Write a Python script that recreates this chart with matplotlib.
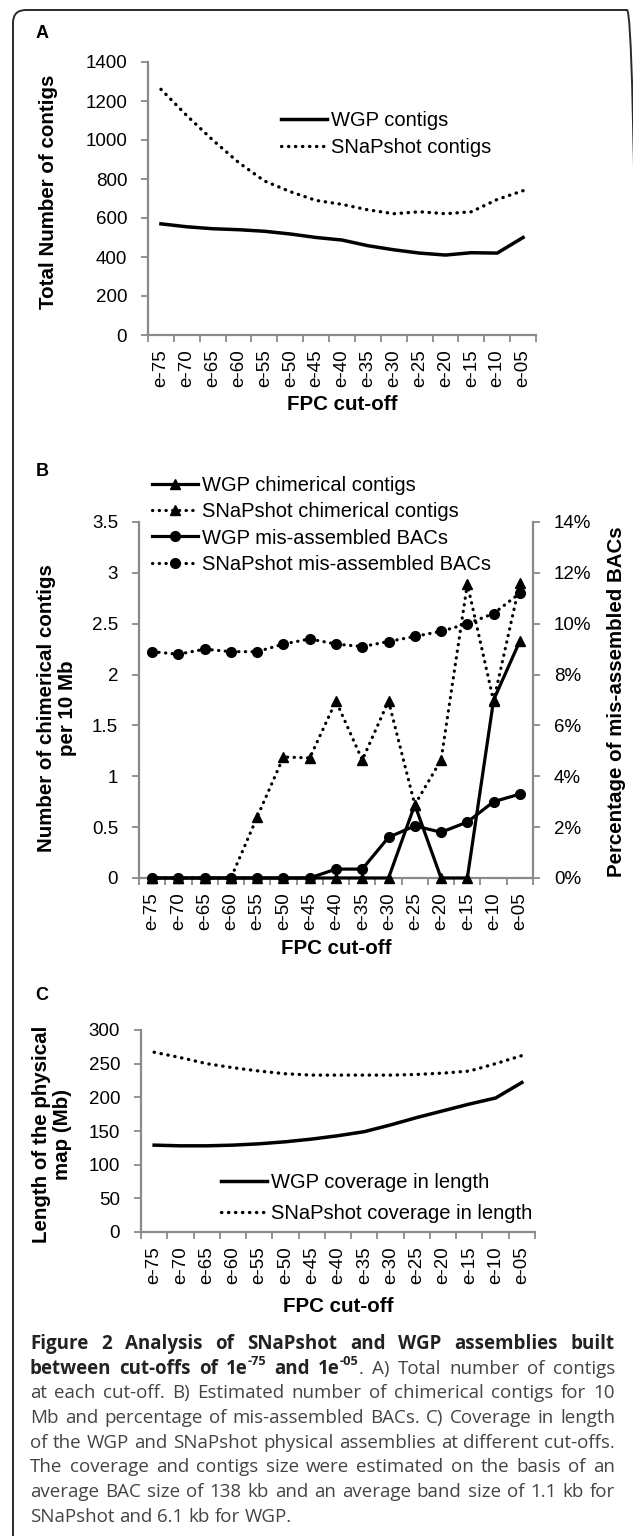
import numpy as np
import matplotlib
matplotlib.use('Agg')
from matplotlib import pyplot as plt
from matplotlib.patches import FancyBboxPatch
from matplotlib.transforms import IdentityTransform

# FPC cut-off categories
cutoffs = ['e-75', 'e-70', 'e-65', 'e-60', 'e-55', 'e-50', 'e-45', 'e-40',
           'e-35', 'e-30', 'e-25', 'e-20', 'e-15', 'e-10', 'e-05']

# A) total number of contigs
wgp_contigs = [570, 555, 545, 540, 532, 518, 500, 487, 458, 437, 420, 410, 422, 420, 500]
snap_contigs = [1260, 1125, 1000, 885, 790, 735, 690, 670, 642, 622, 632, 622, 632, 695, 740]

# B) chimerical contigs per 10 Mb and % mis-assembled BACs
wgp_chim = [0, 0, 0, 0, 0, 0, 0, 0, 0, 0, 0.72, 0, 0, 1.75, 2.33]
snap_chim = [0, 0, 0, 0, 0.6, 1.19, 1.18, 1.74, 1.16, 1.74, 0.72, 1.16, 2.89, 1.74, 2.9]
wgp_mis = [0, 0, 0, 0, 0, 0, 0, 0.35, 0.35, 1.6, 2.05, 1.8, 2.2, 3.0, 3.3]
snap_mis = [8.9, 8.8, 9.0, 8.9, 8.9, 9.2, 9.4, 9.2, 9.1, 9.3, 9.5, 9.7, 10.0, 10.4, 11.2]

# C) length of the physical map (Mb)
wgp_len = [129, 128, 128, 129, 131, 134, 138, 143, 149, 159, 170, 180, 190, 199, 222]
snap_len = [267, 259, 250, 244, 239, 235, 233, 233, 233, 233, 234, 236, 239, 250, 262]

W, H = 633, 1536
GRAY = '#8a8a8a'
TICK_FS = 13.5
LAB_FS = 14.8
LEG_FS = 14.5
plt.rcParams['font.family'] = ['Liberation Sans', 'DejaVu Sans']

fig = plt.figure(figsize=(W / 100, H / 100), dpi=100)


def box(l, t, r, b):
    return [l / W, 1 - b / H, (r - l) / W, (b - t) / H]


def ftext(x, y, s, **kw):
    return fig.text(x / W, 1 - y / H, s, **kw)


def style(ax, ymax, ystep):
    n = len(cutoffs)
    ax.set_xlim(-0.5, n - 0.5)
    ax.set_ylim(0, ymax)
    ax.set_xticks(np.arange(n))
    ax.set_xticklabels(cutoffs, rotation=90, fontsize=TICK_FS)
    ax.set_xticks(np.arange(n + 1) - 0.5, minor=True)
    ax.tick_params(axis='x', which='major', length=0, pad=10)
    ax.tick_params(axis='x', which='minor', length=5, color=GRAY, width=1.3)
    ax.set_yticks(np.arange(0, ymax + ystep / 2, ystep))
    ax.tick_params(axis='y', length=5, color=GRAY, width=1.3, labelsize=TICK_FS, pad=10)
    for s in ['top', 'right']:
        ax.spines[s].set_visible(False)
    for s in ['left', 'bottom']:
        ax.spines[s].set_color(GRAY)
        ax.spines[s].set_linewidth(1.6)
    ax.patch.set_alpha(0)


def legend(ax, handles, left, top, spacing):
    ax.legend(handles=handles, loc='upper left',
              bbox_to_anchor=(left / W, 1 - top / H), bbox_transform=fig.transFigure,
              frameon=False, fontsize=LEG_FS, handlelength=2.3, handletextpad=0.2,
              labelspacing=spacing, borderpad=0, borderaxespad=0)


dots = dict(linestyle=(0, (0.1, 2.0)), dash_capstyle='round')
x = np.arange(len(cutoffs))

# ---- Panel A
axA = fig.add_axes(box(148, 62, 536, 335))
style(axA, 1400, 200)
a1, = axA.plot(x, wgp_contigs, color='k', lw=2.5, label='WGP contigs')
a2, = axA.plot(x, snap_contigs, color='k', lw=2.4, label='SNaPshot contigs', **dots)
legend(axA, [a1, a2], 281, 111, 0.42)
ftext(42, 33, 'A', fontsize=13, fontweight='bold', ha='center', va='center')
ftext(48, 192, 'Total Number of contigs', fontsize=LAB_FS, fontweight='bold',
      rotation=90, ha='center', va='center')
ftext(342, 405, 'FPC cut-off', fontsize=LAB_FS, fontweight='bold', ha='center', va='center')

# ---- Panel B
axB = fig.add_axes(box(139, 522, 533, 878))
style(axB, 3.5, 0.5)
axB.set_yticklabels(['%g' % v for v in np.arange(0, 3.75, 0.5)])
axB2 = axB.twinx()
axB2.set_ylim(0, 14)
axB2.set_yticks(np.arange(0, 15, 2))
axB2.set_yticklabels(['%d%%' % v for v in np.arange(0, 15, 2)])
axB2.tick_params(axis='y', length=5, color=GRAY, width=1.3, labelsize=TICK_FS, pad=10)
for s in ['top', 'left', 'bottom']:
    axB2.spines[s].set_visible(False)
axB2.spines['right'].set_color(GRAY)
axB2.spines['right'].set_linewidth(1.6)

h1, = axB.plot(x, wgp_chim, color='k', lw=2.3, marker='^', ms=7,
               clip_on=False, zorder=3, label='WGP chimerical contigs')
h2, = axB.plot(x, snap_chim, color='k', lw=2.3, marker='^', ms=7,
               clip_on=False, zorder=3, label='SNaPshot chimerical contigs', **dots)
h3, = axB2.plot(x, wgp_mis, color='k', lw=2.3, marker='o', ms=7,
                clip_on=False, zorder=3, label='WGP mis-assembled BACs')
h4, = axB2.plot(x, snap_mis, color='k', lw=2.3, marker='o', ms=7,
                clip_on=False, zorder=3, label='SNaPshot mis-assembled BACs', **dots)
legend(axB2, [h1, h2, h3, h4], 152, 476, 0.36)
ftext(42, 472, 'B', fontsize=13, fontweight='bold', ha='center', va='center')
ftext(57, 708, 'Number of chimerical contigs\nper 10 Mb', fontsize=LAB_FS,
      fontweight='bold', rotation=90, ha='center', va='center',
      multialignment='center', linespacing=1.15)
ftext(617, 702, 'Percentage of mis-assembled BACs', fontsize=LAB_FS,
      fontweight='bold', rotation=90, ha='center', va='center')
ftext(336, 948, 'FPC cut-off', fontsize=LAB_FS, fontweight='bold', ha='center', va='center')

# ---- Panel C
axC = fig.add_axes(box(141, 1030, 535, 1232))
style(axC, 300, 50)
c1, = axC.plot(x, wgp_len, color='k', lw=2.5, label='WGP coverage in length')
c2, = axC.plot(x, snap_len, color='k', lw=2.4, label='SNaPshot coverage in length', **dots)
legend(axC, [c1, c2], 221, 1173, 0.6)
ftext(42, 995, 'C', fontsize=13, fontweight='bold', ha='center', va='center')
ftext(52, 1134, 'Length of the physical\nmap (Mb)', fontsize=LAB_FS,
      fontweight='bold', rotation=90, ha='center', va='center',
      multialignment='center', linespacing=1.15)
ftext(338, 1307, 'FPC cut-off', fontsize=LAB_FS, fontweight='bold', ha='center', va='center')

# ---- border (only the top-left part is inside the picture)
fig.patches.append(FancyBboxPatch((13, -20), 627, H - 10 + 20,
                                  boxstyle='round,pad=0,rounding_size=13',
                                  transform=IdentityTransform(), fill=False,
                                  edgecolor='#2a2a2a', lw=1.4))

# ---- caption, justified line by line
caption = [
    [("Figure 2 Analysis of SNaPshot and WGP assemblies built", True)],
    [("between cut-offs of 1e^-75 and 1e^-05", True), (". A) Total number of contigs", False)],
    [("at each cut-off. B) Estimated number of chimerical contigs for 10", False)],
    [("Mb and percentage of mis-assembled BACs. C) Coverage in length", False)],
    [("of the WGP and SNaPshot physical assemblies at different cut-offs.", False)],
    [("The coverage and contigs size were estimated on the basis of an", False)],
    [("average BAC size of 138 kb and an average band size of 1.1 kb for", False)],
    [("SNaPshot and 6.1 kb for WGP.", False)],
]
CAP_FS = 13.5
renderer = fig.canvas.get_renderer()


def run_kw(bold, sup):
    return dict(fontsize=CAP_FS * (0.68 if sup else 1.0),
                fontweight='bold' if bold else 'normal',
                color='#222222' if bold else '#444444',
                family=['Open Sans', 'DejaVu Sans'])


def run_width(text, bold, sup):
    t = fig.text(0, 0, text, **run_kw(bold, sup))
    w = t.get_window_extent(renderer).width
    t.remove()
    return w


def parse(line):
    words = []
    new_word = True
    for txt, bold in line:
        for i, part in enumerate(txt.split(' ')):
            if i > 0:
                new_word = True
            if part == '':
                continue
            pieces = part.split('^')
            runs = [(pieces[0], bold, False)] + [(p, bold, True) for p in pieces[1:]]
            runs = [r for r in runs if r[0]]
            if new_word:
                words.append([])
            words[-1].extend(runs)
            new_word = False
    return words


space_w = run_width('x x', False, False) - run_width('xx', False, False)
x0, x1 = 30, 615
for k, line in enumerate(caption):
    base = 1349 + 24.7 * k
    words = parse(line)
    widths = [sum(run_width(*r) for r in w) for w in words]
    last = k == len(caption) - 1
    gap = space_w if last else (x1 - x0 - sum(widths)) / (len(words) - 1)
    gap = max(gap, 0.6 * space_w)
    xp = x0
    for w, ww in zip(words, widths):
        for r in w:
            yy = base - (CAP_FS * 0.45 / 0.72 if r[2] else 0)
            ftext(xp, yy, r[0], ha='left', va='baseline', **run_kw(r[1], r[2]))
            xp += run_width(*r)
        xp += gap

fig.savefig('out.png', dpi=100)
